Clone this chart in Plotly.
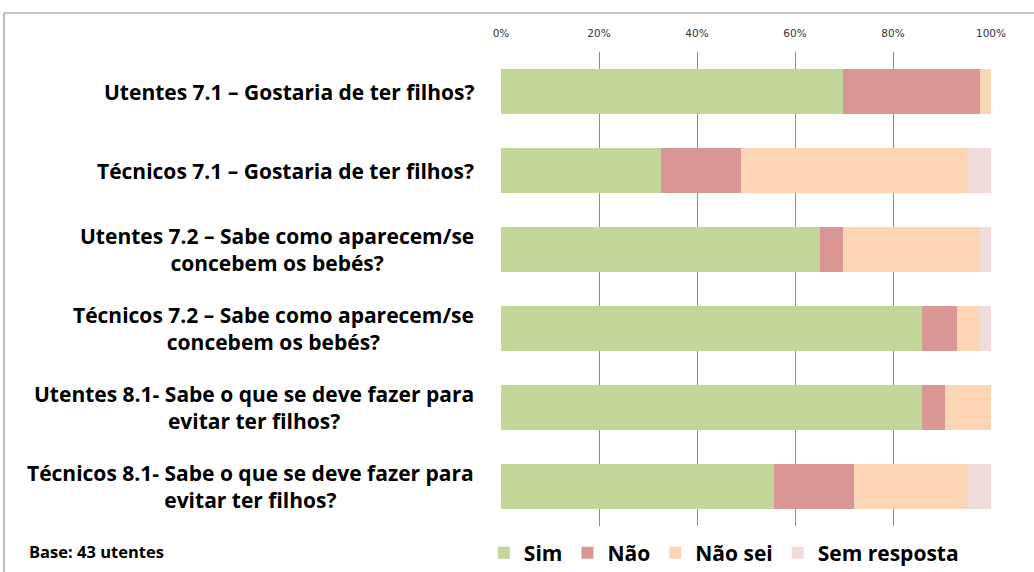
import plotly.graph_objects as go

categories = [
    "Utentes 7.1 – Gostaria de ter filhos?",
    "Técnicos 7.1 – Gostaria de ter filhos?",
    "Utentes 7.2 – Sabe como aparecem/se<br>concebem os bebés?",
    "Técnicos 7.2 – Sabe como aparecem/se<br>concebem os bebés?",
    "Utentes 8.1- Sabe o que se deve fazer para<br>evitar ter filhos?",
    "Técnicos 8.1- Sabe o que se deve fazer para<br>evitar ter filhos?",
]
sim = [69.8, 32.6, 65.1, 86.0, 86.0, 55.8]
nao = [27.9, 16.3, 4.7, 7.0, 4.7, 16.3]
nao_sei = [2.3, 46.5, 27.9, 4.7, 9.3, 23.3]
sem_resposta = [0.0, 4.6, 2.3, 2.3, 0.0, 4.6]

series = [
    ("Sim", sim, "#C4D79B"),
    ("Não", nao, "#DA9694"),
    ("Não sei", nao_sei, "#FCD5B4"),
    ("Sem resposta", sem_resposta, "#F2DCDB"),
]
tick_vals = [0, 20, 40, 60, 80, 100]
tick_text = ["0%", "20%", "40%", "60%", "80%", "100%"]

W, H = 1034, 572
L, R, T, B = 501, 43, 52, 46
pw, ph = W - L - R, H - T - B

fig = go.Figure()
for name, vals, color in series:
    fig.add_trace(go.Bar(
        y=categories, x=vals, name=name, orientation="h",
        marker=dict(color=color, line=dict(width=0)), width=0.57,
    ))

for c in categories:
    fig.add_annotation(
        x=0, xref="paper", y=c, yref="y", xshift=-25,
        xanchor="right", yanchor="middle", align="center",
        text="<b>" + c + "</b>", showarrow=False,
        font=dict(family="Open Sans", size=21, color="#000000"),
    )

fig.add_annotation(
    x=(27 - L) / pw, xref="paper", y=(H - B - 551) / ph, yref="paper",
    xanchor="left", yanchor="middle", text="<b>Base: 43 utentes</b>",
    showarrow=False, font=dict(family="Open Sans", size=16.5, color="#000000"),
)

xl = (4 - L) / pw
xr = (W + 10 - L) / pw
yt = (H - B - 13) / ph
yb = (H - B - (H + 10)) / ph
line_style = dict(color="#8C8C8C", width=1.2)
fig.add_shape(type="line", xref="paper", yref="paper", x0=xl, x1=xr, y0=yt, y1=yt,
              line=line_style, layer="below")
fig.add_shape(type="line", xref="paper", yref="paper", x0=xl, x1=xl, y0=yb, y1=yt,
              line=line_style, layer="below")

fig.update_layout(
    width=W, height=H, barmode="stack",
    margin=dict(l=L, r=R, t=T, b=B, pad=0, autoexpand=False),
    paper_bgcolor="white", plot_bgcolor="white",
    xaxis=dict(
        side="top", range=[0, 100], tickvals=tick_vals, ticktext=tick_text,
        showgrid=True, gridcolor="#8A8A8A", gridwidth=1, zeroline=False,
        showline=False, ticks="outside", ticklen=10, tickcolor="rgba(0,0,0,0)",
        tickfont=dict(family="DejaVu Sans", size=10.5, color="#333333"),
        fixedrange=True, automargin=False,
    ),
    yaxis=dict(
        autorange="reversed", showticklabels=False, showgrid=False,
        zeroline=False, showline=False, ticks="", fixedrange=True, automargin=False,
    ),
    legend=dict(
        orientation="h", x=-0.035, xanchor="left", y=(H - B - 553) / ph, yanchor="middle",
        font=dict(family="Open Sans", size=21, color="#000000", weight="bold"),
        traceorder="normal", itemwidth=30, bgcolor="rgba(0,0,0,0)",
    ),
    showlegend=True,
)

fig.write_html("out.html", config={"displayModeBar": False},
               post_script="document.body.style.margin='0';")
